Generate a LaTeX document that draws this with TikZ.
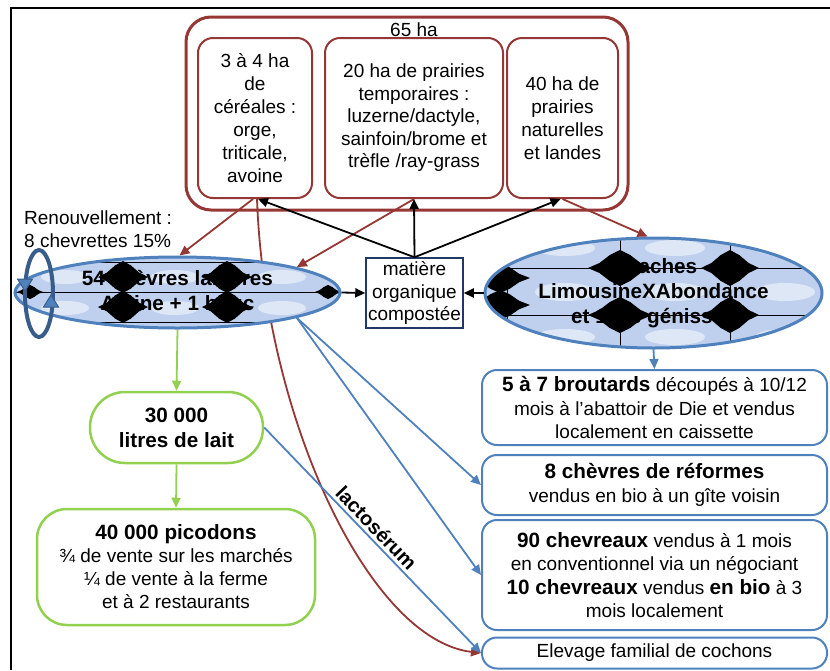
\documentclass[tikz,border=0pt]{standalone}
\usepackage{fontspec}
\setmainfont{Liberation Sans}
\usetikzlibrary{arrows.meta,shapes.geometric}
\definecolor{redc}{RGB}{149,55,53}
\definecolor{bluec}{RGB}{79,129,189}
\definecolor{greenc}{RGB}{146,208,80}
\definecolor{navyc}{RGB}{31,56,100}
\definecolor{loopc}{RGB}{56,93,138}
\definecolor{ellfill}{RGB}{190,208,238}
\newcommand\bfx[1]{{\fontsize{20.7}{23}\selectfont\bfseries #1}}
\newcommand\dblob[4]{\fill[black,shift={(#1,#2)},xscale=#3,yscale=#4] (-0.5,0) -- (-0.32,-0.14) -- (-0.16,-0.36) -- (0,-0.5) -- (0.16,-0.36) -- (0.32,-0.14) -- (0.5,0) -- (0.32,0.14) -- (0.16,0.36) -- (0,0.5) -- (-0.16,0.36) -- (-0.32,0.14) -- cycle;}
\begin{document}
\begin{tikzpicture}[x=1pt,y=-1pt,
  every node/.style={font=\fontsize{19}{23}\selectfont},
  redbox/.style={draw=redc,line width=2,rounded corners=15,align=center,inner sep=0},
  bluebox/.style={draw=bluec,line width=2,rounded corners=15,align=center,inner sep=0,minimum width=345,font=\fontsize{19}{23.3}\selectfont},
  greenbox/.style={draw=greenc,line width=2.5,align=center,inner sep=0},
  ellnode/.style={ellipse,draw=bluec,line width=3,align=center,inner sep=0,font=\fontsize{20.7}{25}\selectfont\bfseries},
  arr/.style={-{Triangle[length=10pt,width=9pt]},line width=1.8},
  patline/.style={black,line width=0.9}
]
\useasboundingbox (0,0) rectangle (830,670);
% frame
\draw[line width=2] (11,670) -- (11,8) -- (830,8);

% land
\node[draw=redc,line width=3,rounded corners=25,minimum width=442,minimum height=193,inner sep=0] (land) at (407,113.5) {};
\node (ha) at (414,30) {65 ha};
\node[redbox,minimum width=114,minimum height=160] (c1) at (255,118) {3 à 4 ha\\de\\céréales :\\orge,\\triticale,\\avoine};
\node[redbox,minimum width=178,minimum height=160,font=\fontsize{19}{22.5}\selectfont] (c2) at (414,118) {20 ha de prairies\\temporaires :\\luzerne/dactyle,\\sainfoin/brome et\\trèfle /ray-grass};
\node[redbox,minimum width=111,minimum height=160] (c3) at (562.5,118) {40 ha de\\prairies\\naturelles\\et landes};

\node[align=left,anchor=west,inner sep=0] (renouv) at (24,229) {Renouvellement :\\8 chevrettes 15\%};

% compost
\node[draw=navyc,line width=1.5,minimum width=97,minimum height=70,inner sep=0,align=center,font=\fontsize{19}{22.5}\selectfont] (mat) at (414.5,293) {matière\\organique\\compostée};

% milk
\node[greenbox,minimum width=173,minimum height=71,rounded corners=35,font=\fontsize{20.7}{25}\selectfont\bfseries] (lait) at (176.5,427.5) {30 000\\litres de lait};
\node[greenbox,minimum width=278,minimum height=116,rounded corners=30] (pico) at (176,567) {\bfx{40 000 picodons}\\¾ de vente sur les marchés\\¼ de vente à la ferme\\et à 2 restaurants};

% outputs
\node[bluebox,minimum height=75] (b1) at (654.5,407.5) {\bfx{5 à 7 broutards} découpés à 10/12\\mois à l’abattoir de Die et vendus\\localement en caissette};
\node[bluebox,minimum height=60] (b2) at (654.5,485) {\bfx{8 chèvres de réformes}\\vendus en bio à un gîte voisin};
\node[bluebox,minimum height=110] (b3) at (654.5,575) {\bfx{90 chevreaux} vendus à 1 mois\\en conventionnel via un négociant\\\bfx{10 chevreaux} vendus \bfx{en bio} à 3\\mois localement};
\node[bluebox,minimum height=31] (b4) at (654.5,653) {Elevage familial de cochons};

% red curve behind the goat ellipse
\draw[arr,redc] ([xshift=2]c1.south) .. controls (265,420) and (370,640) .. (b4.west);

% goat ellipse background
\begin{scope}
\clip (177.5,292.5) ellipse [x radius=162.5, y radius=35.5];
\fill[ellfill] (177.5,292.5) ellipse [x radius=162.5, y radius=35.5];
\foreach \px in {65,175,282}{
  \fill[white,opacity=0.5] (\px,277) ellipse [x radius=24, y radius=7];
  \fill[white,opacity=0.5] (\px,308) ellipse [x radius=24, y radius=7];
}
\draw[patline] (10,262) -- (345,262);
\draw[patline] (10,292) -- (345,292);
\draw[patline] (10,322) -- (345,322);
\dblob{123}{277}{50}{32}
\dblob{123}{307}{50}{32}
\dblob{227}{277}{50}{32}
\dblob{227}{307}{50}{32}
\dblob{30}{292}{26}{14}
\dblob{328}{292}{26}{14}
\end{scope}
\node[ellnode,minimum width=325,minimum height=71] (goat) at (177.5,292.5) {54 chèvres laitières\\Alpine + 1 bouc};

% cow ellipse background
\begin{scope}
\clip (653.5,293) ellipse [x radius=168.5, y radius=55];
\fill[ellfill] (653.5,293) ellipse [x radius=168.5, y radius=55];
\foreach \px in {565,675,785}{
  \fill[white,opacity=0.5] (\px,292) ellipse [x radius=30, y radius=9];
  \fill[white,opacity=0.5] (\px,248) ellipse [x radius=30, y radius=8];
  \fill[white,opacity=0.5] (\px,337) ellipse [x radius=30, y radius=8];
}
\draw[patline] (480,268) -- (830,268);
\draw[patline] (480,315) -- (830,315);
\draw[patline] (620,235) -- (620,350);
\draw[patline] (730,235) -- (730,350);
\draw[patline] (507,260) -- (507,322);
\dblob{620}{268}{64}{36}
\dblob{730}{268}{58}{36}
\dblob{620}{315}{64}{36}
\dblob{730}{315}{58}{36}
\dblob{500}{278}{60}{30}
\dblob{500}{305}{60}{30}
\end{scope}
\node[ellnode,minimum width=337,minimum height=110,font=\fontsize{20.7}{25}\selectfont\bfseries] (cow) at (653.5,293) {6 vaches\\LimousineXAbondance\\et 1 à 3 génisses};

% renewal loop
\draw[loopc,line width=4] (39,293.5) ellipse [x radius=14, y radius=43.5];
\fill[bluec,draw=loopc,line width=1] (17.5,279) -- (32.5,279) -- (25,291) -- cycle;
\fill[bluec,draw=loopc,line width=1] (43.5,307) -- (58.5,307) -- (51,295) -- cycle;

% red arrows
\draw[arr,redc] ([xshift=-2]c1.south) -- ([xshift=2]goat.north);
\draw[arr,redc] (c2.south) -- (goat.12);
\draw[arr,redc] (c3.south) -- ([xshift=-6]cow.north);

% black arrows
\draw[arr,black] (mat.north) -- ([xshift=3]c1.south);
\draw[arr,black] (mat.north) -- (c2.south);
\draw[arr,black] (mat.north) -- ([xshift=-2]c3.south);
\draw[arr,black] (goat.east) -- (mat.west);
\draw[arr,black] (cow.west) -- (mat.east);

% green arrows
\draw[arr,greenc] (goat.south) -- (lait.north);
\draw[arr,greenc] (lait.south) -- (pico.north);

% blue arrows
\draw[arr,bluec] (cow.south) -- (b1.north);
\draw[arr,bluec] (goat.-12) -- (b2.west);
\draw[arr,bluec] (goat.-12) -- (b3.west);
\draw[arr,bluec] (lait.east) -- node[pos=0.48,sloped,above,inner sep=3,text=black,font=\fontsize{20}{24}\selectfont\bfseries] (lacto) {lactosérum} (b4.west);
\end{tikzpicture}
\end{document}
